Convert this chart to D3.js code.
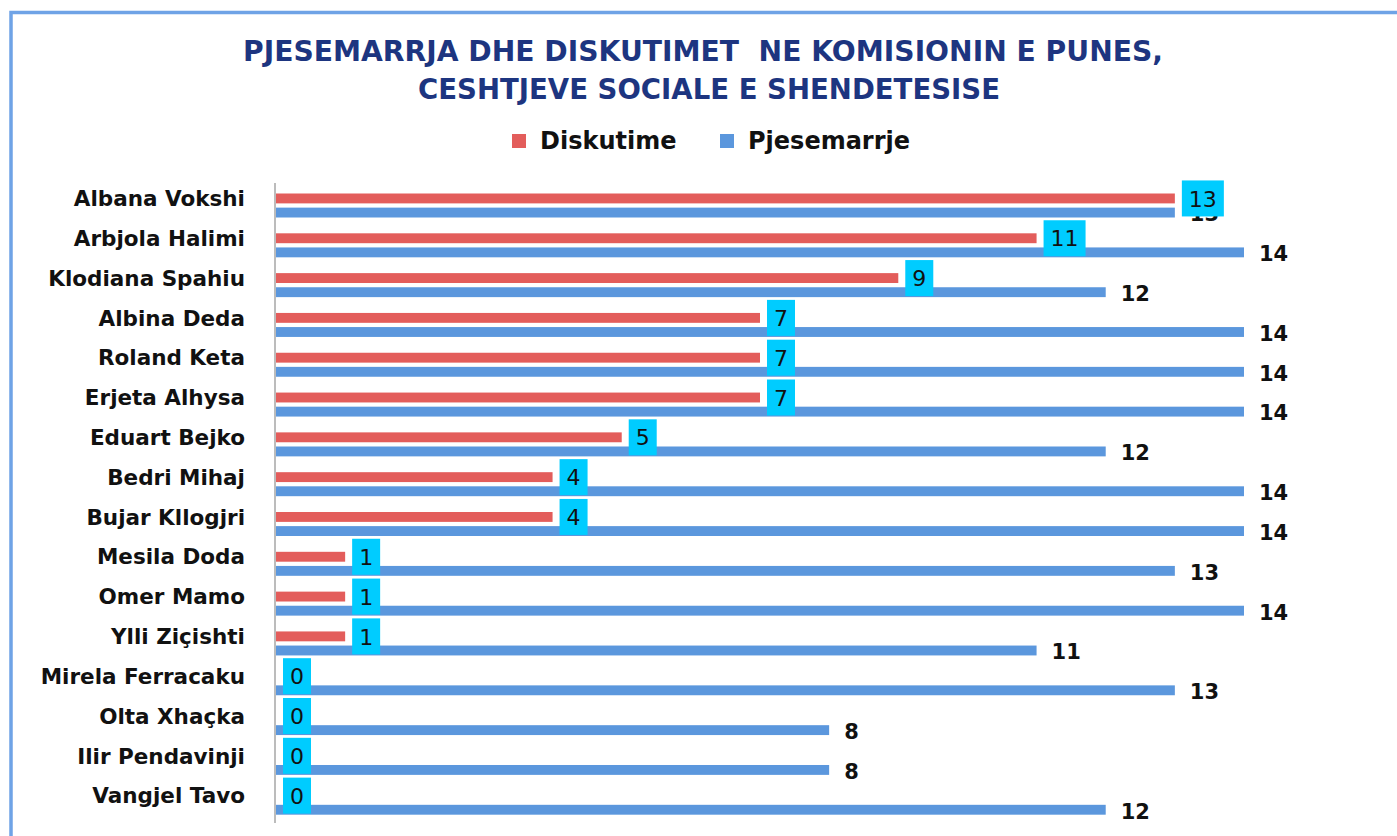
<!DOCTYPE html>
<html>
<head>
<meta charset="utf-8">
<script src="https://cdn.jsdelivr.net/npm/d3@7"></script>
<style>
  body { margin: 0; background: #fff; }
  svg { display: block; }
</style>
</head>
<body>
<div id="grafico"></div>
<script>
// datos
let emrat = ["Albana Vokshi", "Arbjola Halimi", "Klodiana Spahiu", "Albina Deda", "Roland Keta",
    "Erjeta Alhysa", "Eduart Bejko", "Bedri Mihaj", "Bujar Kllogjri", "Mesila Doda", "Omer Mamo",
    "Ylli Ziçishti", "Mirela Ferracaku", "Olta Xhaçka", "Ilir Pendavinji", "Vangjel Tavo"];
let diskutime = [13, 11, 9, 7, 7, 7, 5, 4, 4, 1, 1, 1, 0, 0, 0, 0];
let pjesemarrje = [13, 14, 12, 14, 14, 14, 12, 14, 14, 13, 14, 11, 13, 8, 8, 12];
let seriet = ["Diskutime", "Pjesemarrje"];
let titulli = ["PJESEMARRJA DHE DISKUTIMET  NE KOMISIONIN E PUNES,", "CESHTJEVE SOCIALE E SHENDETESISE"];

let width = 1397, height = 836;
let color = d3.scaleOrdinal().domain(seriet).range(["#e35d5b", "#5b97dd"]);

let svg = d3.select("#grafico")
    .append("svg")
    .attr("width", width)
    .attr("height", height);

// marco
svg.append("rect")
    .attr("x", 11)
    .attr("y", 12.5)
    .attr("width", width + 20)
    .attr("height", height + 20)
    .attr("fill", "none")
    .attr("stroke", "#6fa3e6")
    .attr("stroke-width", 3.5);

// titulo
svg.selectAll(".titulli")
    .data(titulli)
    .enter()
    .append("text")
    .attr("class", "titulli")
    .attr("x", function (d, i) { return i === 0 ? 703 : 709; })
    .attr("y", function (d, i) { return 61 + i * 38; })
    .attr("text-anchor", "middle")
    .attr("textLength", function (d, i) { return i === 0 ? 920 : 582; })
    .attr("lengthAdjust", "spacingAndGlyphs")
    .style("white-space", "pre")
    .style("font-family", "'DejaVu Sans', Verdana, sans-serif")
    .style("font-weight", "bold")
    .style("font-size", "29px")
    .style("fill", "#1d3580")
    .text(function (d) { return d; });

// leyenda
let leyendaX = [512, 720];
let leyenda = svg.append("g").attr("id", "leyenda");
leyenda.selectAll("rect")
    .data(seriet)
    .enter()
    .append("rect")
    .attr("x", function (d, i) { return leyendaX[i]; })
    .attr("y", 134)
    .attr("width", 14)
    .attr("height", 14)
    .attr("fill", function (d) { return color(d); });
leyenda.selectAll("text")
    .data(seriet)
    .enter()
    .append("text")
    .attr("x", function (d, i) { return leyendaX[i] + 28; })
    .attr("y", 149)
    .style("font-family", "'DejaVu Sans', Verdana, sans-serif")
    .style("font-weight", "bold")
    .style("font-size", "24px")
    .style("fill", "#111")
    .text(function (d) { return d; });

// escalas
let x = d3.scaleLinear()
    .domain([0, 14])
    .range([276, 1244]);

let y = d3.scaleBand()
    .domain(emrat)
    .range([183, 820]);

let ySub = d3.scaleBand()
    .domain(seriet)
    .range([10.5, 34.5])
    .paddingInner(0.3);

// eje de categorias
let eje = svg.append("g")
    .attr("transform", "translate(275,0)")
    .call(d3.axisLeft(y).tickSize(0).tickPadding(30));
eje.select(".domain")
    .attr("stroke", "#a6a6a6")
    .attr("stroke-width", 1.5)
    .attr("d", "M0,183V823");
eje.selectAll("text")
    .attr("dy", "0.15em")
    .style("font-family", "'DejaVu Sans', Verdana, sans-serif")
    .style("font-weight", "bold")
    .style("font-size", "21.5px")
    .style("fill", "#111");

let filas = emrat.map(function (d, i) {
    return { emri: d, diskutime: diskutime[i], pjesemarrje: pjesemarrje[i] };
});

// barras
let grupos = svg.append("g")
    .selectAll("g")
    .data(filas)
    .enter()
    .append("g")
    .attr("transform", function (d) { return "translate(0," + y(d.emri) + ")"; });

grupos.append("rect")
    .attr("x", x(0))
    .attr("y", ySub("Diskutime"))
    .attr("width", function (d) { return x(d.diskutime) - x(0); })
    .attr("height", ySub.bandwidth())
    .attr("fill", color("Diskutime"));

grupos.append("rect")
    .attr("x", x(0))
    .attr("y", ySub("Pjesemarrje"))
    .attr("width", function (d) { return x(d.pjesemarrje) - x(0); })
    .attr("height", ySub.bandwidth())
    .attr("fill", color("Pjesemarrje"));

// etiquetas de pjesemarrje
grupos.append("text")
    .attr("x", function (d) { return x(d.pjesemarrje) + 15; })
    .attr("y", ySub("Pjesemarrje") + ySub.bandwidth() / 2)
    .attr("dy", "0.42em")
    .style("font-family", "'DejaVu Sans', Verdana, sans-serif")
    .style("font-weight", "bold")
    .style("font-size", "21px")
    .style("fill", "#111")
    .text(function (d) { return d.pjesemarrje; });

// etiquetas de diskutime con caja cian
grupos.each(function (d) {
    let g = d3.select(this);
    let cy = ySub("Diskutime") + ySub.bandwidth() / 2;
    let t = g.append("text")
        .attr("x", x(d.diskutime) + 14)
        .attr("y", cy)
        .attr("dy", "0.37em")
        .style("font-family", "'DejaVu Sans', Verdana, sans-serif")
        .style("font-size", "22px")
        .style("fill", "#111")
        .text(d.diskutime);
    let w = t.node().getComputedTextLength();
    g.insert("rect", function () { return t.node(); })
        .attr("x", x(d.diskutime) + 7)
        .attr("y", cy - 18)
        .attr("width", w + 14)
        .attr("height", 36)
        .attr("fill", "#00ccff");
});
</script>
</body>
</html>
